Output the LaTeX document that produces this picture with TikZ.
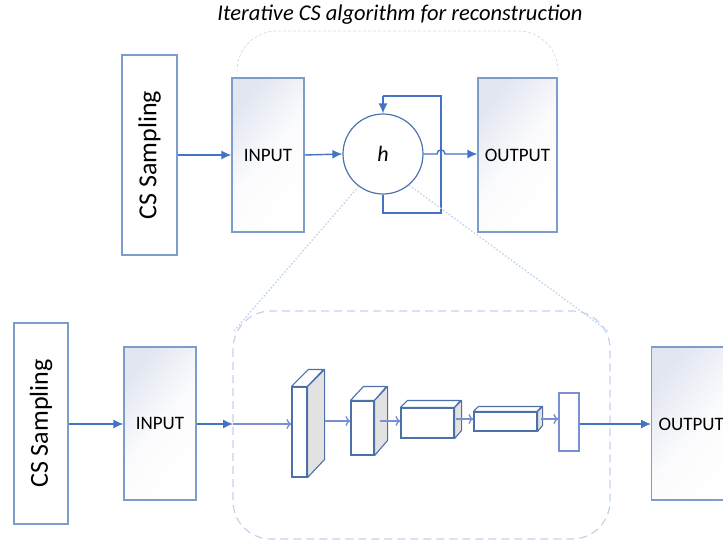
\documentclass[tikz,border=0pt]{standalone}
\usepackage{fontspec}
\setmainfont{Carlito}
\usetikzlibrary{arrows.meta}
\definecolor{boxline}{HTML}{7C9CCB}
\definecolor{circline}{HTML}{4A74B0}
\definecolor{arrowc}{HTML}{4472C4}
\definecolor{lightarrow}{HTML}{7B8FD4}
\definecolor{blockline}{HTML}{4D70A8}
\definecolor{boxfill}{HTML}{E2E6F1}
\definecolor{dashc}{HTML}{C2D3EE}
\definecolor{arcc}{HTML}{D9D9D9}
\definecolor{sidegray}{HTML}{E2E2E2}
\begin{document}
\begin{tikzpicture}[x=1pt,y=-1pt,
  plainbox/.style={draw=boxline,line width=1.2pt,fill=white,inner sep=0pt},
  gradbox/.style={draw=boxline,line width=1.2pt,inner sep=0pt,top color=boxfill,bottom color=white,middle color=white!85!boxfill,shading angle=50},
  arr/.style={draw=arrowc,line width=1.4pt,-{Latex[length=10pt,width=9pt]}},
  larr/.style={draw=lightarrow,line width=1.4pt,-{To[length=5pt,width=10pt]}},
  blk/.style={draw=blockline,line width=1.1pt,fill=white,inner sep=0pt},
  sidef/.style={draw=blockline,line width=1.1pt,fill=sidegray,line join=round},
  topf/.style={draw=blockline,line width=1.1pt,fill=white,line join=round},
  lbl/.style={font=\fontsize{19}{22}\selectfont},
  cslbl/.style={font=\fontsize{26}{30}\selectfont,rotate=90}
]
\useasboundingbox (0,0) rectangle (723,544);

% title
\node[font=\fontsize{22.5}{26}\selectfont\itshape] (title) at (400,15) {Iterative CS algorithm for reconstruction};
\draw[arcc,dashed,dash pattern=on 3pt off 2pt,line width=0.7pt,rounded corners=40] (237,70) -- (237,31) -- (558,31) -- (558,70);

% ---------- top row ----------
\node[plainbox,minimum width=55pt,minimum height=200pt] (cs1) at (149.5,155) {};
\node[cslbl] at (cs1.center) {CS Sampling};
\node[gradbox,minimum width=72pt,minimum height=154pt] (in1) at (268,155) {};
\node[lbl] at (in1.center) {INPUT};
\node[draw=circline,line width=1.2pt,circle,minimum size=80pt,inner sep=0pt,fill=white] (h) at (383,154) {};
\node[font=\fontsize{22}{26}\selectfont\itshape] at (h.center) {h};
\node[gradbox,minimum width=79pt,minimum height=154pt] (out1) at (517.5,155) {};
\node[lbl] at (out1.center) {OUTPUT};

\draw[arr] (cs1.east |- 0,155) -- (in1.west |- 0,155);
\draw[arr] (in1.east |- 0,155) -- (h.west);
\coordinate (lpb) at (383,213);
\coordinate (lpr) at (441,213);
\coordinate (lpt) at (441,96);
\coordinate (lptl) at (383,96);
\draw[draw=arrowc,line width=1.4pt] (h.south) -- (lpb) -- (lpr) -- (lpt) -- (lptl);
\draw[arr] (lptl) -- (h.north);
\draw[arr] (h.east) -- (437,154) .. controls (437,148.5) and (445,148.5) .. (445,154) -- (out1.west |- 0,154);

% dotted zoom lines
\coordinate (zl) at (234,331);
\coordinate (zr) at (608,331);
\draw[dashc,line width=1.4pt,dash pattern=on 1.5pt off 2pt] (h.-127) -- (zl);
\draw[dashc,line width=1.4pt,dash pattern=on 1.5pt off 2pt] (h.-50) -- (zr);

% ---------- bottom row ----------
\draw[dashc,line width=1.2pt,dash pattern=on 8pt off 5pt,rounded corners=38] (233,311) rectangle (610,539);

\node[plainbox,minimum width=54pt,minimum height=201pt] (cs2) at (41,423.5) {};
\node[cslbl] at (cs2.center) {CS Sampling};
\node[gradbox,minimum width=72pt,minimum height=153pt] (in2) at (160,423.5) {};
\node[lbl] at (in2.center) {INPUT};
\node[gradbox,minimum width=100pt,minimum height=153pt,anchor=west] (out2) at (651,423.5) {};
\node[lbl,anchor=west] at (655,424) {OUTPUT};

% block 1
\node[blk,minimum width=15pt,minimum height=90pt] (b1) at (299.5,432) {};
\draw[topf] (b1.north west) -- ++(17,-17) -- ++(15,0) -- (b1.north east) -- cycle;
\draw[sidef] (b1.north east) -- ++(17,-17) -- ++(0,90) -- (b1.south east) -- cycle;
% block 2
\node[blk,minimum width=23pt,minimum height=54pt] (b2) at (362.5,428) {};
\draw[topf] (b2.north west) -- ++(13,-14) -- ++(23,0) -- (b2.north east) -- cycle;
\draw[sidef] (b2.north east) -- ++(13,-14) -- ++(0,54) -- (b2.south east) -- cycle;
% block 3
\node[blk,minimum width=53pt,minimum height=30pt] (b3) at (427.5,423) {};
\draw[topf] (b3.north west) -- ++(7,-7) -- ++(53,0) -- (b3.north east) -- cycle;
\draw[sidef] (b3.north east) -- ++(7,-7) -- ++(0,30) -- (b3.south east) -- cycle;
% block 4
\node[blk,minimum width=63pt,minimum height=19pt] (b4) at (505.5,421.5) {};
\draw[topf] (b4.north west) -- ++(5,-5) -- ++(63,0) -- (b4.north east) -- cycle;
\draw[sidef] (b4.north east) -- ++(5,-5) -- ++(0,19) -- (b4.south east) -- cycle;
% block 5
\node[draw=lightarrow,line width=1.2pt,fill=white,inner sep=0pt,minimum width=20pt,minimum height=58pt] (b5) at (569,422) {};

\coordinate (ent) at (233,424);
\draw[arr] (cs2.east |- 0,424) -- (in2.west |- 0,424);
\draw[arr] (in2.east |- 0,424) -- (ent);
\draw[larr] (ent) -- (b1.west |- 0,424);
\draw[larr] ([xshift=17pt]b1.east |- 0,421) -- (b2.west |- 0,421);
\draw[larr] ([xshift=5pt]b2.east |- 0,421) -- (b3.west |- 0,421);
\draw[larr] ([xshift=1pt]b3.east |- 0,419) -- (b4.west |- 0,419);
\draw[larr] ([xshift=3pt]b4.east |- 0,419) -- (b5.west |- 0,419);
\draw[arr] (b5.east |- 0,424) -- (out2.west |- 0,424);
\end{tikzpicture}
\end{document}
